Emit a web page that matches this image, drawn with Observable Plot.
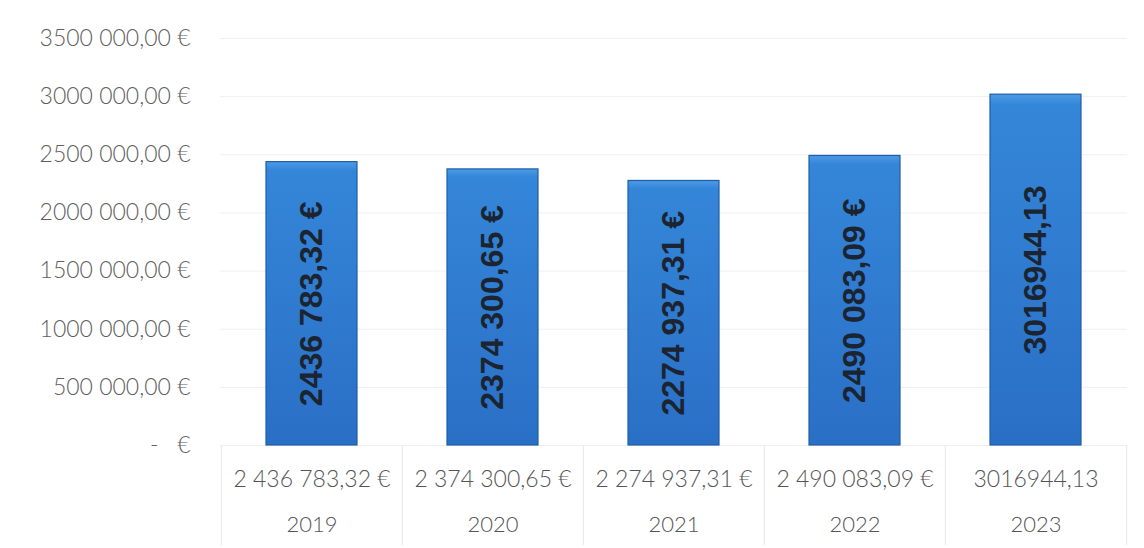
<!DOCTYPE html>
<html>
<head>
<meta charset="utf-8">
<script src="https://cdn.jsdelivr.net/npm/d3@7"></script>
<script src="https://cdn.jsdelivr.net/npm/@observablehq/plot@0.6"></script>
<style>
  html, body { margin: 0; padding: 0; background: #fff; }
  #chart { width: 1144px; height: 548px; }
</style>
</head>
<body>
<div id="chart"></div>
<script>
const years = ["2019", "2020", "2021", "2022", "2023"];
const values = [2436783.32, 2374300.65, 2274937.31, 2490083.09, 3016944.13];
const barLabels = ["2436 783,32 €", "2374 300,65 €", "2274 937,31 €", "2490 083,09 €", "3016944,13"];
const tableLabels = ["2 436 783,32 €", "2 374 300,65 €", "2 274 937,31 €", "2 490 083,09 €", "3016944,13"];
const yTicks = [0, 500000, 1000000, 1500000, 2000000, 2500000, 3000000, 3500000];
const yTickLabels = ["-   €", "500 000,00 €", "1000 000,00 €", "1500 000,00 €", "2000 000,00 €", "2500 000,00 €", "3000 000,00 €", "3500 000,00 €"];

const data = years.map((year, i) => ({year, value: values[i], label: barLabels[i], table: tableLabels[i]}));

const W = 1144, H = 548, mL = 220, mR = 17, mT = 38, mB = 103;
const half = (W - mL - mR) / years.length / 2;

const chart = Plot.plot({
  width: W,
  height: H,
  marginLeft: mL,
  marginRight: mR,
  marginTop: mT,
  marginBottom: mB,
  style: {fontFamily: "Lato, 'Open Sans', sans-serif", background: "#fff"},
  x: {domain: years, paddingInner: 0.5, paddingOuter: 0.25, axis: null},
  y: {domain: [0, 3500000], axis: null},
  marks: [
    Plot.gridY(yTicks, {stroke: "#efefef", strokeOpacity: 1}),
    Plot.axisY({
      ticks: yTicks,
      label: null,
      tickSize: 0,
      tickPadding: 30,
      fontSize: 23,
      fontWeight: 300,
      fill: "#606060",
      tickFormat: d => yTickLabels[yTicks.indexOf(d)]
    }),
    Plot.axisX({ticks: years, label: null, tickSize: 100, tickFormat: () => "", dx: -half, stroke: "#e8e8e8", strokeOpacity: 1}),
    Plot.axisX({ticks: [years[years.length - 1]], label: null, tickSize: 100, tickFormat: () => "", dx: half, stroke: "#e8e8e8", strokeOpacity: 1}),
    Plot.barY(data, {x: "year", y: "value", fill: "url(#barGrad)", stroke: "#1f5ea6", strokeWidth: 1.2}),
    Plot.text(data, {
      x: "year", y: d => d.value / 2, text: "label", rotate: -90,
      fontSize: 32, fontWeight: "bold", fill: "#1b2430",
      fontFamily: "'Liberation Sans', Arial, sans-serif"
    }),
    Plot.text(data, {x: "year", frameAnchor: "bottom", dy: 41, text: "table", fontSize: 23, fontWeight: 300, fill: "#555"}),
    Plot.text(data, {x: "year", frameAnchor: "bottom", dy: 86, text: "year", fontSize: 22, fontWeight: 300, fill: "#555"})
  ]
});

const ns = "http://www.w3.org/2000/svg";
const defs = document.createElementNS(ns, "defs");
defs.innerHTML = `<linearGradient id="barGrad" x1="0" y1="0" x2="0" y2="1">
  <stop offset="0" stop-color="#4d9be6"/>
  <stop offset="0.03" stop-color="#3486d8"/>
  <stop offset="1" stop-color="#2a6fc6"/>
</linearGradient>`;
chart.insertBefore(defs, chart.firstChild);
document.getElementById("chart").appendChild(chart);
</script>
</body>
</html>
